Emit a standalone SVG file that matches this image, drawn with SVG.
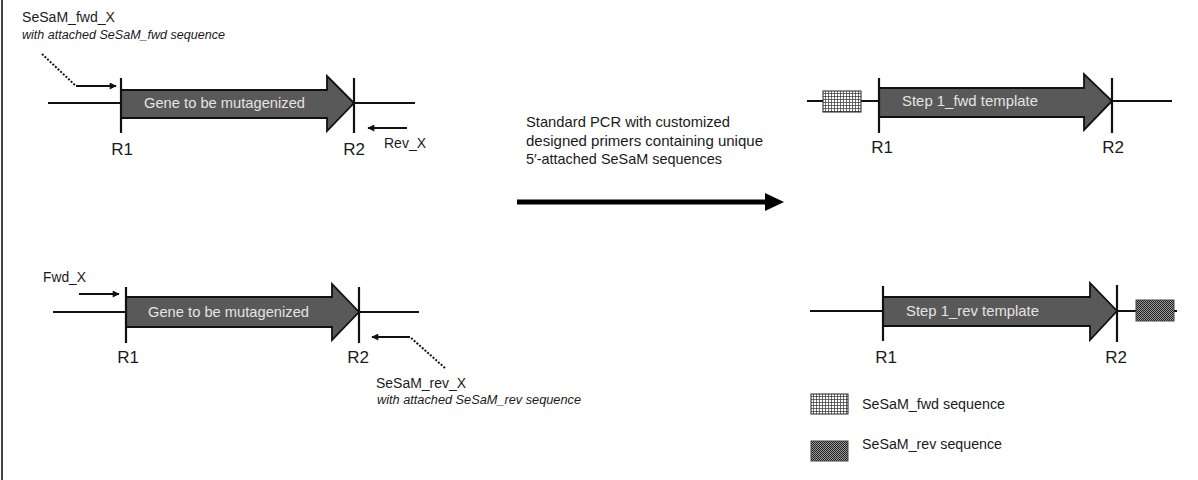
<svg xmlns="http://www.w3.org/2000/svg" width="1198" height="480" viewBox="0 0 1198 480">
<defs>
<style>
text{font-family:"Liberation Sans",Arial,sans-serif;fill:#1a1a1a}
.lbl{font-size:17px}
.prim{font-size:14px}
.ital{font-size:12px;font-style:italic}
.gene{font-size:15px;fill:#e4e4e4}
.mid{font-size:15px}
.leg{font-size:14px}
.dna{stroke:#111;stroke-width:2;fill:none}
.site{stroke:#111;stroke-width:2.2}
.body{fill:#595959;stroke:#111;stroke-width:1.8;stroke-linejoin:miter}
.pr{stroke:#111;stroke-width:2;fill:none}
.dot{stroke:#111;stroke-width:2;fill:none;stroke-dasharray:2 1.6}
</style>
<marker id="ah" viewBox="0 0 10 10" refX="9" refY="5" markerWidth="8" markerHeight="7" markerUnits="userSpaceOnUse" orient="auto">
<path d="M0,0 L10,5 L0,10 z" fill="#111"/>
</marker>
<pattern id="grid" width="3" height="3" patternUnits="userSpaceOnUse">
<rect width="3" height="3" fill="#fff"/>
<path d="M0,0.4 H3 M0.4,0 V3" stroke="#333" stroke-width="0.8"/>
</pattern>
<pattern id="check" width="2" height="2" patternUnits="userSpaceOnUse">
<rect width="2" height="2" fill="#9a9a9a"/>
<rect width="1" height="1" fill="#222"/>
<rect x="1" y="1" width="1" height="1" fill="#222"/>
</pattern>
</defs>
<rect width="1198" height="480" fill="#fff"/>
<line x1="2" y1="0" x2="2" y2="480" stroke="#444" stroke-width="2"/>

<g id="gene-top-left">
<line class="dna" x1="48" y1="103" x2="121" y2="103"/>
<polygon class="body" points="121,90 327,90 327,76 354,103 327,131 327,118 121,118"/>
<line class="dna" x1="354" y1="103" x2="415" y2="103"/>
<line class="site" x1="121" y1="78" x2="121" y2="133"/>
<line class="site" x1="354" y1="78" x2="354" y2="133"/>
<text class="gene" x="144" y="108" textLength="161" lengthAdjust="spacingAndGlyphs">Gene to be mutagenized</text>
<text class="lbl" x="122" y="155" text-anchor="middle">R1</text>
<text class="lbl" x="354" y="155" text-anchor="middle">R2</text>
</g>

<g id="primer-sesam-fwd">
<text class="prim" x="22" y="22" textLength="93" lengthAdjust="spacingAndGlyphs">SeSaM_fwd_X</text>
<text class="ital" x="22" y="39" textLength="203" lengthAdjust="spacingAndGlyphs">with attached SeSaM_fwd sequence</text>
</g>
<g id="primer-rev">
<text class="prim" x="384" y="148" textLength="42" lengthAdjust="spacingAndGlyphs">Rev_X</text>
</g>

<g id="gene-bottom-left">
<line class="dna" x1="53" y1="312" x2="126" y2="312"/>
<polygon class="body" points="126,297 332,297 332,284 359,312 332,340 332,327 126,327"/>
<line class="dna" x1="359" y1="312" x2="419" y2="312"/>
<line class="site" x1="126" y1="287" x2="126" y2="343"/>
<line class="site" x1="359" y1="287" x2="359" y2="343"/>
<text class="gene" x="148" y="317" textLength="161" lengthAdjust="spacingAndGlyphs">Gene to be mutagenized</text>
<text class="lbl" x="128" y="363" text-anchor="middle">R1</text>
<text class="lbl" x="358" y="363" text-anchor="middle">R2</text>
</g>

<g id="primer-fwd">
<text class="prim" x="43" y="282" textLength="43" lengthAdjust="spacingAndGlyphs">Fwd_X</text>
</g>
<g id="primer-sesam-rev">
<text class="prim" x="376" y="388" textLength="90" lengthAdjust="spacingAndGlyphs">SeSaM_rev_X</text>
<text class="ital" x="377" y="404" textLength="204" lengthAdjust="spacingAndGlyphs">with attached SeSaM_rev sequence</text>
</g>

<g id="pcr-step">
<text class="mid" x="526" y="127" textLength="204" lengthAdjust="spacingAndGlyphs">Standard PCR with customized</text>
<text class="mid" x="526" y="146" textLength="237" lengthAdjust="spacingAndGlyphs">designed primers containing unique</text>
<text class="mid" x="526" y="164" textLength="196" lengthAdjust="spacingAndGlyphs">5′-attached SeSaM sequences</text>
</g>

<g id="template-fwd">
<line class="dna" x1="807" y1="101" x2="879" y2="101"/>
<rect x="823" y="91" width="38" height="21" fill="url(#grid)" stroke="#222" stroke-width="1"/>
<polygon class="body" points="879,88 1084,88 1084,74 1112,101 1084,130 1084,117 879,117"/>
<line class="dna" x1="1112" y1="101" x2="1172" y2="101"/>
<line class="site" x1="879" y1="78" x2="879" y2="133"/>
<line class="site" x1="1112" y1="78" x2="1112" y2="133"/>
<text class="gene" x="902" y="106" textLength="136" lengthAdjust="spacingAndGlyphs">Step 1_fwd template</text>
<text class="lbl" x="882" y="153" text-anchor="middle">R1</text>
<text class="lbl" x="1113" y="153" text-anchor="middle">R2</text>
</g>

<g id="template-rev">
<line class="dna" x1="810" y1="311" x2="883" y2="311"/>
<polygon class="body" points="883,297 1090,297 1090,283 1117,311 1090,340 1090,326 883,326"/>
<line class="dna" x1="1117" y1="311" x2="1177" y2="311"/>
<rect x="1136" y="300" width="38" height="21" fill="url(#check)" stroke="#444" stroke-width="1"/>
<line class="site" x1="883" y1="286" x2="883" y2="341"/>
<line class="site" x1="1117" y1="285" x2="1117" y2="342"/>
<text class="gene" x="906" y="316" textLength="133" lengthAdjust="spacingAndGlyphs">Step 1_rev template</text>
<text class="lbl" x="886" y="363" text-anchor="middle">R1</text>
<text class="lbl" x="1116" y="363" text-anchor="middle">R2</text>
</g>

<g id="legend">
<rect x="811" y="394" width="37" height="20" fill="url(#grid)" stroke="#222" stroke-width="1"/>
<text class="leg" x="862" y="409" textLength="143" lengthAdjust="spacingAndGlyphs">SeSaM_fwd sequence</text>
<rect x="811" y="441" width="37" height="20" fill="url(#check)" stroke="#444" stroke-width="1"/>
<text class="leg" x="862" y="449" textLength="140" lengthAdjust="spacingAndGlyphs">SeSaM_rev sequence</text>
</g>

<g id="connectors">
<path class="dot" d="M42,54 L76,86"/>
<path class="pr" d="M76,86 L116,86" marker-end="url(#ah)"/>
<path class="pr" d="M407,128 L368,128" marker-end="url(#ah)"/>
<path class="pr" d="M79,294 L119,294" marker-end="url(#ah)"/>
<path class="dot" d="M445,368 L410,337"/>
<path class="pr" d="M410,337 L372,337" marker-end="url(#ah)"/>
<line x1="517" y1="202" x2="768" y2="202" stroke="#000" stroke-width="5"/>
<polygon points="765,193 784,202 765,211" fill="#000"/>
</g>
</svg>
